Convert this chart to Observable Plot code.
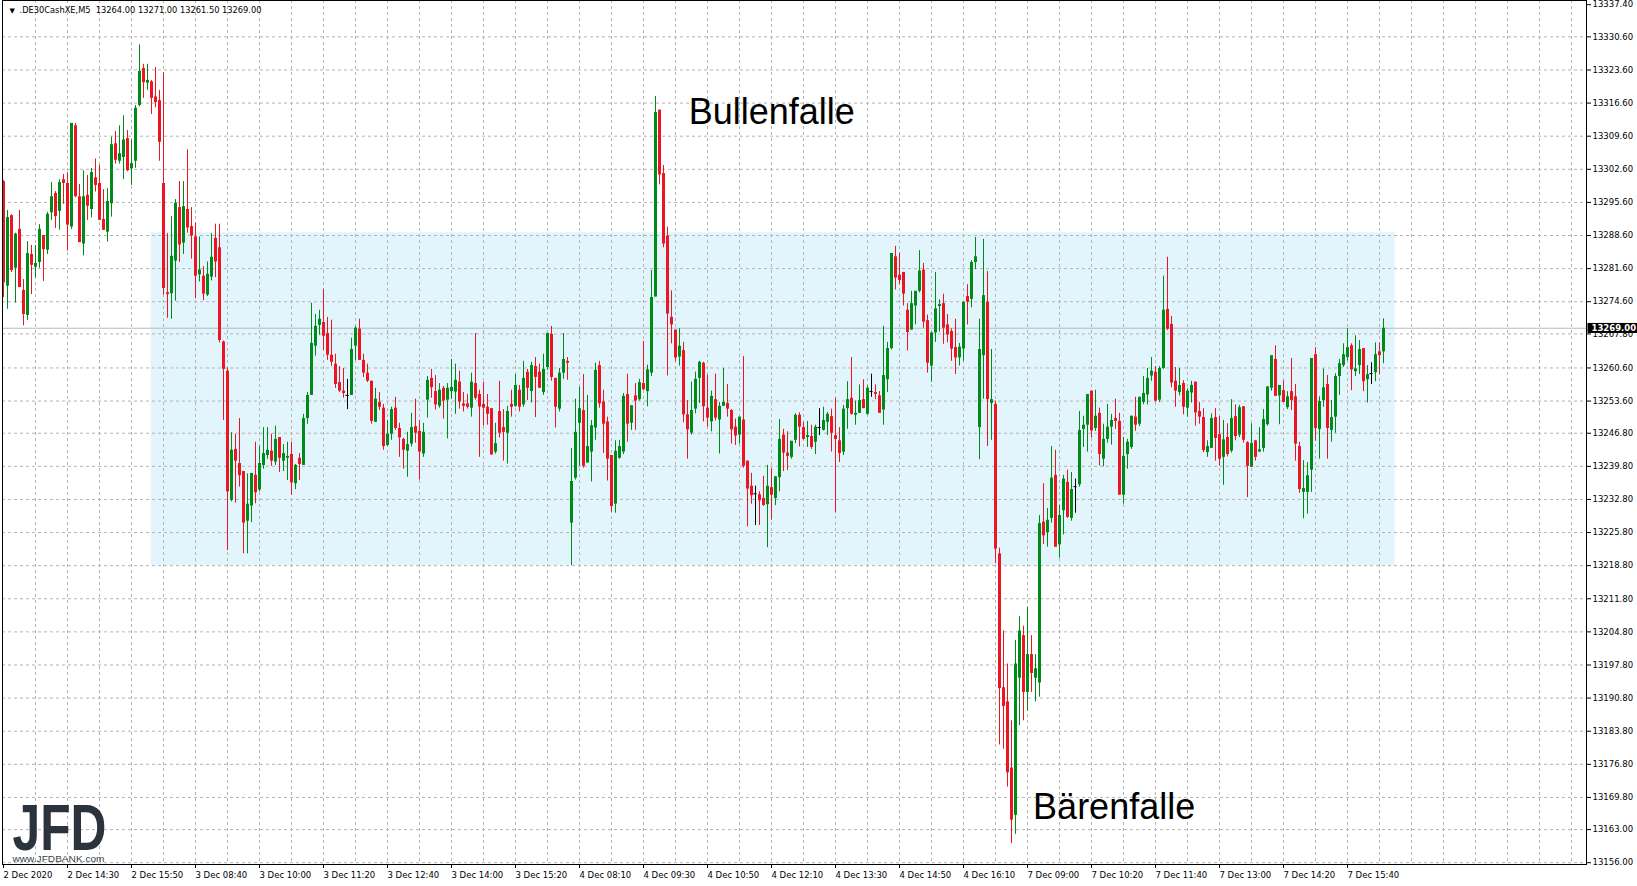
<!DOCTYPE html>
<html><head><meta charset="utf-8">
<script src="https://cdn.jsdelivr.net/npm/d3@7"></script>
<script src="https://cdn.jsdelivr.net/npm/@observablehq/plot@0.6"></script>
<style>
html,body{margin:0;padding:0;background:#fff;overflow:hidden}
svg{display:block}
</style></head><body><div id="chart"></div>
<script>
// ---- OHLC data, one entry per 5-minute bar (bar index = position) ----
const openP = [
13300.0,13277.9,13292.8,13281.7,13289.9,13277.0,13271.7,13284.6,13281.9,13282.9,
13288.6,13285.5,13293.4,13297.5,13293.7,13300.4,13299.6,13290.4,13311.8,13296.8,
13286.8,13297.1,13294.1,13300.8,13299.6,13292.0,13289.3,13295.3,13308.0,13304.3,
13305.1,13309.1,13302.7,13304.3,13316.1,13323.9,13320.8,13321.1,13317.9,13317.1,
13299.6,13276.5,13276.3,13283.2,13294.5,13287.0,13294.1,13290.5,13288.3,13280.3,
13280.0,13276.0,13279.8,13288.0,13286.0,13266.1,13259.9,13232.6,13243.4,13240.4,
13238.7,13228.2,13231.4,13237.9,13234.8,13240.0,13242.1,13243.0,13240.7,13245.9,
13240.9,13241.5,13242.3,13236.1,13241.5,13240.0,13249.9,13254.8,13265.2,13269.6,
13270.2,13267.9,13263.3,13261.4,13257.5,13255.7,13254.8,13254.8,13265.2,13268.8,
13262.2,13259.5,13257.8,13249.1,13253.3,13252.1,13244.2,13246.6,13252.1,13247.8,
13245.5,13243.0,13244.5,13248.2,13247.2,13242.4,13253.8,13258.4,13255.6,13252.5,
13256.3,13253.8,13255.6,13255.5,13257.6,13253.0,13253.0,13252.1,13257.3,13255.0,
13252.9,13252.3,13252.0,13242.8,13251.4,13248.0,13246.8,13252.9,13252.5,13255.9,
13252.8,13259.7,13255.6,13260.9,13259.7,13255.4,13260.7,13267.7,13258.4,13251.9,
13259.5,13262.0,13227.8,13237.3,13248.9,13251.6,13240.5,13242.8,13247.9,13261.1,
13253.4,13249.2,13242.1,13231.8,13241.5,13242.8,13255.0,13248.9,13254.7,13253.9,
13257.3,13255.6,13259.5,13275.6,13315.1,13301.7,13288.5,13271.3,13268.6,13262.9,
13264.3,13250.7,13246.8,13251.9,13258.4,13261.6,13252.1,13249.2,13253.9,13249.6,
13252.5,13253.1,13251.6,13248.1,13246.4,13249.6,13240.9,13235.6,13234.0,13233.8,
13233.0,13231.7,13235.3,13233.0,13237.4,13246.4,13242.6,13241.7,13245.3,13250.6,
13248.0,13245.9,13246.1,13244.9,13248.0,13247.4,13249.1,13250.3,13246.3,13245.2,
13242.8,13252.0,13254.2,13250.6,13251.0,13253.9,13250.8,13255.6,13255.4,13254.7,
13251.7,13258.1,13264.7,13284.1,13280.2,13280.8,13272.8,13268.6,13273.7,13276.8,
13281.3,13270.6,13261.0,13268.0,13273.6,13274.2,13269.7,13268.3,13264.9,13262.7,
13264.6,13275.7,13275.1,13282.9,13248.0,13263.2,13274.5,13253.1,13252.9,13221.3,
13193.0,13190.0,13176.0,13166.0,13195.0,13204.0,13192.0,13200.0,13195.0,13194.0,
13228.0,13225.8,13228.8,13237.9,13223.2,13230.4,13236.4,13228.8,13235.5,13235.9,
13247.6,13248.5,13255.7,13247.8,13251.0,13241.3,13245.5,13248.1,13249.9,13249.3,
13233.7,13242.3,13243.8,13250.2,13248.7,13253.3,13254.9,13258.9,13259.7,13253.8,
13260.5,13273.0,13269.8,13257.8,13255.4,13257.3,13252.1,13255.3,13257.6,13251.4,
13250.1,13242.7,13243.6,13250.1,13246.5,13241.7,13245.9,13243.0,13250.3,13246.4,
13252.4,13244.8,13239.6,13245.2,13242.8,13243.6,13248.6,13256.3,13262.4,13254.7,
13255.8,13252.2,13255.6,13254.5,13244.0,13234.3,13234.3,13239.0,13263.4,13247.6,
13253.7,13257.1,13247.4,13250.2,13258.8,13261.1,13262.8,13265.3,13259.8,13261.1,
13264.7,13258.1,13259.4,13259.6,13264.0,13264.0];
const highP = [
13300.2,13293.9,13293.0,13289.1,13293.9,13279.3,13287.3,13286.5,13286.5,13290.9,
13288.6,13293.5,13299.8,13297.9,13300.4,13301.5,13301.9,13312.3,13312.3,13299.4,
13302.3,13301.3,13302.8,13304.8,13303.4,13298.3,13298.5,13309.4,13310.6,13311.8,
13313.9,13310.8,13308.8,13316.1,13328.9,13324.8,13324.8,13321.4,13324.1,13319.3,
13323.0,13289.0,13292.6,13296.2,13300.0,13300.0,13306.7,13294.5,13291.3,13288.3,
13282.0,13283.0,13289.0,13291.0,13291.0,13266.3,13260.6,13246.9,13246.6,13249.9,
13238.7,13238.2,13238.3,13244.9,13244.0,13248.0,13248.0,13246.6,13248.3,13245.9,
13244.4,13244.9,13244.9,13240.2,13242.5,13250.8,13255.4,13274.3,13271.9,13272.8,
13277.2,13271.3,13270.7,13263.5,13260.9,13260.5,13258.2,13266.9,13269.4,13270.9,
13263.5,13261.4,13257.8,13256.3,13255.4,13252.9,13249.5,13252.3,13254.4,13248.9,
13245.7,13247.0,13251.0,13254.0,13249.5,13248.9,13258.8,13260.3,13259.0,13257.3,
13256.7,13257.3,13262.4,13261.4,13259.9,13255.4,13255.0,13259.5,13267.9,13255.9,
13257.6,13255.0,13252.0,13248.9,13257.8,13251.8,13252.5,13255.9,13259.2,13256.9,
13262.0,13260.3,13261.8,13262.8,13261.4,13263.5,13267.9,13269.4,13258.4,13260.5,
13267.9,13262.8,13243.6,13254.0,13256.5,13259.2,13254.8,13249.5,13261.6,13262.0,
13255.9,13250.2,13242.1,13245.2,13245.3,13255.2,13259.3,13252.6,13257.3,13258.2,
13266.2,13261.2,13281.2,13318.0,13315.1,13303.4,13290.4,13276.9,13268.6,13268.9,
13266.0,13253.7,13257.6,13259.7,13262.0,13261.8,13259.1,13255.7,13259.3,13253.3,
13260.5,13257.1,13251.8,13249.8,13250.2,13263.0,13240.9,13238.3,13235.6,13234.4,
13237.7,13240.0,13239.4,13237.6,13249.7,13247.6,13247.1,13245.1,13250.9,13251.1,
13249.1,13249.3,13248.5,13248.5,13252.0,13252.3,13251.2,13251.9,13254.2,13248.0,
13252.7,13257.7,13262.8,13253.6,13257.0,13258.1,13256.8,13259.3,13257.0,13255.6,
13269.4,13266.0,13284.8,13286.3,13284.8,13280.8,13274.2,13276.8,13276.8,13285.4,
13282.7,13271.8,13268.2,13280.8,13275.0,13276.2,13271.9,13268.9,13270.9,13265.8,
13274.5,13278.2,13283.3,13288.2,13270.9,13287.8,13281.0,13264.5,13253.6,13222.5,
13205.0,13198.0,13186.0,13203.0,13208.0,13206.0,13210.0,13204.0,13200.0,13229.4,
13236.1,13230.9,13244.0,13243.2,13231.5,13237.9,13239.0,13238.5,13237.1,13251.4,
13250.4,13255.0,13255.7,13255.9,13252.1,13248.7,13252.9,13250.8,13254.0,13251.0,
13245.9,13245.5,13250.4,13254.4,13254.4,13258.8,13260.5,13262.8,13260.9,13260.9,
13280.0,13284.0,13271.5,13260.7,13260.5,13257.9,13256.2,13257.8,13257.6,13253.3,
13252.0,13245.2,13250.9,13252.0,13250.3,13249.5,13248.8,13253.9,13252.8,13252.7,
13252.4,13245.0,13248.8,13245.2,13248.0,13251.8,13256.6,13263.2,13265.3,13256.9,
13257.9,13255.6,13262.6,13257.1,13244.9,13241.0,13240.6,13262.6,13264.9,13254.5,
13260.4,13259.0,13253.7,13259.4,13262.4,13265.7,13268.9,13265.7,13267.4,13266.4,
13264.7,13261.1,13261.7,13265.9,13265.9,13271.0];
const lowP = [
13275.5,13273.0,13280.8,13274.3,13277.6,13269.5,13270.6,13276.1,13279.7,13281.7,
13278.9,13284.6,13291.8,13290.1,13289.7,13295.2,13285.3,13289.9,13296.6,13287.1,
13284.3,13291.8,13292.3,13297.8,13291.8,13289.7,13287.2,13292.5,13303.7,13303.7,
13300.4,13302.1,13299.2,13302.8,13315.8,13317.6,13319.3,13314.2,13315.6,13304.3,
13276.0,13271.1,13270.9,13274.7,13282.9,13284.6,13289.1,13283.6,13275.2,13278.8,
13274.8,13275.7,13279.0,13279.7,13265.9,13249.5,13222.0,13232.3,13232.0,13235.4,
13221.3,13221.3,13227.9,13231.9,13234.4,13239.2,13241.3,13239.8,13240.0,13238.5,
13238.7,13236.8,13233.7,13234.9,13236.8,13240.0,13248.7,13254.8,13263.1,13267.5,
13264.3,13262.2,13260.9,13256.3,13255.4,13254.2,13251.8,13254.8,13262.2,13262.2,
13258.6,13257.5,13248.7,13249.1,13251.6,13243.2,13244.0,13245.3,13247.4,13241.7,
13239.2,13237.5,13243.9,13244.7,13236.9,13241.7,13250.0,13254.2,13251.7,13252.1,
13249.8,13245.6,13254.0,13250.8,13251.9,13251.3,13251.9,13250.2,13253.8,13241.7,
13248.3,13248.5,13242.2,13242.4,13245.8,13240.9,13240.3,13250.2,13252.3,13251.3,
13252.3,13253.7,13253.2,13250.1,13256.3,13254.8,13260.1,13257.8,13247.9,13251.3,
13258.2,13258.0,13218.8,13236.9,13239.8,13239.4,13240.5,13236.5,13245.3,13252.1,
13242.5,13236.7,13230.1,13229.9,13241.3,13242.3,13244.9,13247.4,13247.4,13253.6,
13255.9,13252.4,13258.8,13275.6,13299.3,13286.0,13258.9,13265.7,13261.9,13261.0,
13249.0,13241.3,13246.4,13250.9,13253.1,13249.2,13248.1,13247.1,13249.4,13242.4,
13252.5,13250.2,13244.5,13244.2,13244.5,13239.4,13227.0,13231.8,13227.3,13227.3,
13231.4,13222.6,13228.4,13231.5,13234.4,13238.7,13238.9,13241.3,13244.6,13243.9,
13245.3,13243.8,13243.4,13242.3,13246.3,13247.3,13246.3,13242.8,13230.0,13240.6,
13242.1,13247.6,13250.6,13248.5,13251.0,13252.0,13250.6,13254.4,13253.9,13251.0,
13248.5,13255.4,13264.4,13277.1,13278.2,13273.7,13264.2,13268.6,13269.7,13276.5,
13269.0,13259.5,13257.6,13266.0,13268.2,13265.6,13265.9,13262.0,13259.2,13261.0,
13262.0,13269.7,13273.3,13281.4,13241.2,13254.0,13244.0,13245.3,13219.3,13180.9,
13180.0,13172.0,13160.0,13162.0,13185.0,13186.0,13188.0,13192.0,13190.0,13191.0,
13223.3,13222.7,13227.8,13222.7,13220.4,13225.3,13228.8,13228.2,13229.9,13235.4,
13243.8,13242.8,13245.8,13247.2,13239.9,13239.7,13244.7,13244.3,13247.6,13233.7,
13231.8,13239.2,13243.4,13247.2,13248.2,13252.8,13252.8,13257.8,13253.4,13253.3,
13260.3,13268.5,13256.4,13252.3,13254.7,13250.7,13250.2,13253.2,13248.3,13248.7,
13242.7,13241.7,13243.6,13240.9,13239.8,13235.8,13241.8,13242.6,13245.2,13245.9,
13244.7,13233.2,13239.6,13240.9,13242.8,13242.8,13248.3,13255.7,13254.6,13248.6,
13253.3,13251.8,13251.6,13240.9,13234.1,13228.7,13229.7,13234.3,13245.1,13241.3,
13252.3,13241.3,13244.9,13246.8,13254.8,13260.7,13262.1,13255.8,13258.8,13259.2,
13255.6,13253.2,13257.1,13257.7,13259.2,13261.5];
const closeP = [
13278.6,13292.4,13281.2,13288.9,13277.6,13271.9,13284.8,13282.3,13282.7,13289.9,
13285.6,13293.1,13296.8,13292.6,13299.8,13299.6,13290.8,13312.3,13296.8,13287.1,
13296.8,13294.8,13301.9,13299.2,13291.8,13289.7,13295.8,13307.8,13304.5,13305.9,
13308.8,13302.3,13303.8,13315.5,13323.3,13320.9,13321.4,13317.6,13316.7,13308.3,
13277.4,13276.1,13284.2,13295.4,13286.6,13294.7,13290.2,13288.5,13280.0,13281.3,
13276.2,13280.4,13284.0,13283.0,13266.4,13260.3,13234.4,13243.2,13240.9,13237.8,
13227.8,13231.8,13238.3,13234.2,13240.4,13242.5,13243.2,13240.9,13245.5,13241.5,
13242.5,13241.9,13236.3,13240.0,13240.2,13249.9,13254.8,13265.8,13269.4,13270.9,
13267.3,13263.3,13261.8,13257.1,13255.7,13255.2,13254.8,13264.5,13269.0,13262.2,
13259.5,13257.8,13249.3,13254.0,13252.3,13244.0,13246.6,13251.8,13247.8,13245.8,
13243.2,13244.4,13248.0,13246.8,13242.8,13247.0,13258.0,13256.4,13252.8,13255.9,
13253.6,13256.3,13256.5,13258.0,13253.4,13252.5,13252.3,13257.6,13254.2,13252.3,
13252.1,13250.8,13242.2,13244.6,13246.8,13247.0,13251.4,13252.3,13256.9,13252.3,
13258.4,13256.3,13261.1,13258.6,13256.3,13260.3,13267.9,13258.6,13252.3,13259.5,
13262.4,13261.6,13236.6,13247.0,13252.0,13239.8,13244.0,13248.4,13260.1,13253.0,
13248.7,13241.3,13231.3,13243.0,13244.0,13254.6,13248.7,13252.6,13253.6,13257.5,
13256.0,13260.2,13275.5,13314.6,13301.4,13286.8,13272.0,13269.7,13262.7,13265.2,
13250.7,13247.5,13251.6,13258.2,13261.8,13252.4,13250.0,13254.6,13250.0,13252.5,
13253.3,13251.9,13247.5,13246.2,13250.2,13239.8,13235.0,13233.6,13234.0,13232.5,
13231.5,13235.6,13233.7,13237.6,13245.5,13242.6,13241.9,13245.1,13250.6,13248.1,
13245.5,13246.3,13243.8,13248.1,13248.0,13249.5,13250.8,13246.8,13245.5,13242.5,
13251.9,13253.9,13250.8,13251.0,13253.7,13252.0,13256.3,13255.6,13255.0,13251.0,
13259.0,13264.7,13284.8,13279.6,13279.1,13276.2,13268.1,13274.2,13276.8,13281.1,
13270.3,13261.6,13268.0,13273.1,13274.0,13269.0,13267.6,13264.6,13262.7,13265.0,
13274.5,13274.5,13282.9,13284.1,13264.5,13275.9,13253.9,13253.9,13222.3,13192.8,
13189.0,13175.0,13165.0,13198.0,13205.0,13192.0,13200.0,13196.0,13197.0,13227.7,
13225.1,13228.4,13237.3,13222.7,13229.4,13237.1,13229.0,13234.9,13235.5,13247.4,
13248.5,13255.0,13247.3,13250.4,13242.3,13245.5,13248.1,13249.5,13249.3,13233.7,
13241.9,13244.9,13250.4,13248.5,13254.4,13255.2,13258.4,13259.9,13253.6,13260.5,
13272.8,13268.8,13257.4,13255.7,13256.9,13252.3,13255.7,13256.9,13251.1,13250.2,
13243.1,13244.0,13249.9,13245.7,13241.3,13245.4,13242.3,13249.9,13246.1,13252.2,
13245.3,13239.8,13244.6,13241.7,13243.3,13249.7,13256.6,13263.2,13254.6,13256.9,
13253.3,13254.5,13253.7,13244.5,13234.9,13235.1,13237.8,13262.6,13247.8,13253.5,
13256.4,13247.8,13250.1,13258.8,13261.5,13263.4,13264.9,13260.2,13260.4,13264.5,
13257.7,13259.2,13259.4,13263.4,13263.2,13269.0];

// ---- axis labels ----
const timeLabelBars = [0,16,32,48,64,80,96,112,128,144,160,176,192,208,224,240,256,272,288,304,320,336];
const timeLabels = ["2 Dec 2020","2 Dec 14:30","2 Dec 15:50","3 Dec 08:40","3 Dec 10:00","3 Dec 11:20",
  "3 Dec 12:40","3 Dec 14:00","3 Dec 15:20","4 Dec 08:10","4 Dec 09:30","4 Dec 10:50","4 Dec 12:10",
  "4 Dec 13:30","4 Dec 14:50","4 Dec 16:10","7 Dec 09:00","7 Dec 10:20","7 Dec 11:40","7 Dec 13:00",
  "7 Dec 14:20","7 Dec 15:40"];
const priceTicks = [13337.4,13330.6,13323.6,13316.6,13309.6,13302.6,13295.6,13288.6,13281.6,13274.6,
  13267.8,13260.6,13253.6,13246.8,13239.8,13232.8,13225.8,13218.8,13211.8,13204.8,13197.8,13190.8,
  13183.8,13176.8,13169.8,13163.0,13156.0];
const lastPrice = 13269.0;
const headerText = ".DE30CashXE,M5  13264.00 13271.00 13261.50 13269.00";

// ---- annotations ----
const zoneBars = [36.9, 347.9];
const zonePrices = [13218.8, 13289.2];
const noteTexts = ["Bullenfalle", "Bärenfalle"];
const noteBars = [171.3, 257.4];
const notePrices = [13314.6, 13167.7];

const candles = openP.map((o, i) => ({i, o, h: highP[i], l: lowP[i], c: closeP[i]}));
const UP = "#008a17", DOWN = "#ec1622";
const col = d => d.c > d.o ? UP : d.c < d.o ? DOWN : "#000";
const notes = noteTexts.map((t, k) => ({t, bar: noteBars[k], price: notePrices[k]}));
const gridBars = d3.range(0, 396, 8);

const chart = Plot.plot({
  width: 1637, height: 886,
  marginLeft: 2, marginRight: 51, marginTop: 0, marginBottom: 22,
  x: {domain: [-0.25, 395.75], axis: null},
  y: {domain: [13155.62, 13338.29], axis: null},
  style: {fontFamily: "'DejaVu Sans', sans-serif", fontSize: "8.5px", color: "#000", background: "#fff"},
  marks: [
    Plot.rect([0], {x1: () => zoneBars[0], x2: () => zoneBars[1], y1: () => zonePrices[0], y2: () => zonePrices[1], fill: "#e2f5fc"}),
    Plot.ruleY(priceTicks.slice(1), {stroke: "#b4b4b4", strokeDasharray: "3,3"}),
    Plot.ruleX(gridBars.slice(1), {stroke: "#b4b4b4", strokeDasharray: "3,3"}),
    Plot.ruleY([lastPrice], {stroke: "#b2bcc2"}),
    Plot.ruleX(candles, {x: "i", y1: "l", y2: "h", stroke: col, strokeWidth: 1}),
    Plot.ruleX(candles.filter(d => d.o !== d.c), {x: "i", y1: "o", y2: "c", stroke: col, strokeWidth: 3}),
    Plot.ruleY(candles.filter(d => d.o === d.c), {y: "o", x1: d => d.i - 0.4, x2: d => d.i + 0.4, stroke: "#000"}),
    Plot.text(notes, {x: "bar", y: "price", text: "t", fontSize: 36, fontFamily: "'Liberation Sans', Arial, sans-serif",
      textAnchor: "start", lineAnchor: "middle", fill: "#000"}),
    Plot.text(["JFD"], {frameAnchor: "bottom-left", dx: 10, dy: -35, fontSize: 64, fontWeight: "bold",
      fontFamily: "'Liberation Sans', Arial, sans-serif", fill: "#2b333d", textAnchor: "start", lineAnchor: "middle",
      ariaDescription: "logo"}),
    Plot.text(["www.JFDBANK.com"], {frameAnchor: "bottom-left", dx: 10, dy: -5, fontSize: 9,
      fontFamily: "'Liberation Sans', Arial, sans-serif", fill: "#3a3f45", textAnchor: "start", lineAnchor: "middle",
      ariaDescription: "logourl"}),
    Plot.text(["▼"], {frameAnchor: "top-left", dx: 7, dy: 10, fontSize: 7, textAnchor: "start", lineAnchor: "middle"}),
    Plot.text([headerText], {frameAnchor: "top-left", dx: 17, dy: 10, textAnchor: "start", lineAnchor: "middle",
      ariaDescription: "header"}),
    Plot.frame({stroke: "#000"}),
    Plot.axisY(priceTicks, {anchor: "right", tickSize: 4, tickPadding: 2, tickFormat: d => d.toFixed(2)}),
    Plot.axisX(timeLabelBars, {anchor: "bottom", tickSize: 4, tickPadding: 3, textAnchor: "start",
      tickFormat: d => timeLabels[timeLabelBars.indexOf(d)]}),
    Plot.text([lastPrice], {y: d => d, frameAnchor: "right", dx: 5, textAnchor: "start", lineAnchor: "middle",
      fill: "#fff", fontWeight: "bold", text: d => d.toFixed(2), ariaDescription: "lastprice"})
  ]
});
document.getElementById("chart").append(chart);

// post-render adjustments: fixed text widths and the black price box
function fit(desc, len) {
  const t = chart.querySelector(`g[aria-description="${desc}"] text`);
  if (t) { t.setAttribute("textLength", len); t.setAttribute("lengthAdjust", "spacingAndGlyphs"); }
}
fit("logo", 94);
fit("logourl", 92);
fit("header", 242);
const lp = chart.querySelector('g[aria-description="lastprice"] text');
if (lp) {
  const bb = lp.getBBox();
  const r = document.createElementNS("http://www.w3.org/2000/svg", "rect");
  r.setAttribute("x", bb.x - 4); r.setAttribute("y", bb.y);
  r.setAttribute("width", bb.width + 6); r.setAttribute("height", bb.height);
  r.setAttribute("fill", "#000");
  const tr = lp.getAttribute("transform"); if (tr) r.setAttribute("transform", tr);
  lp.parentNode.insertBefore(r, lp);
}
</script></body></html>
